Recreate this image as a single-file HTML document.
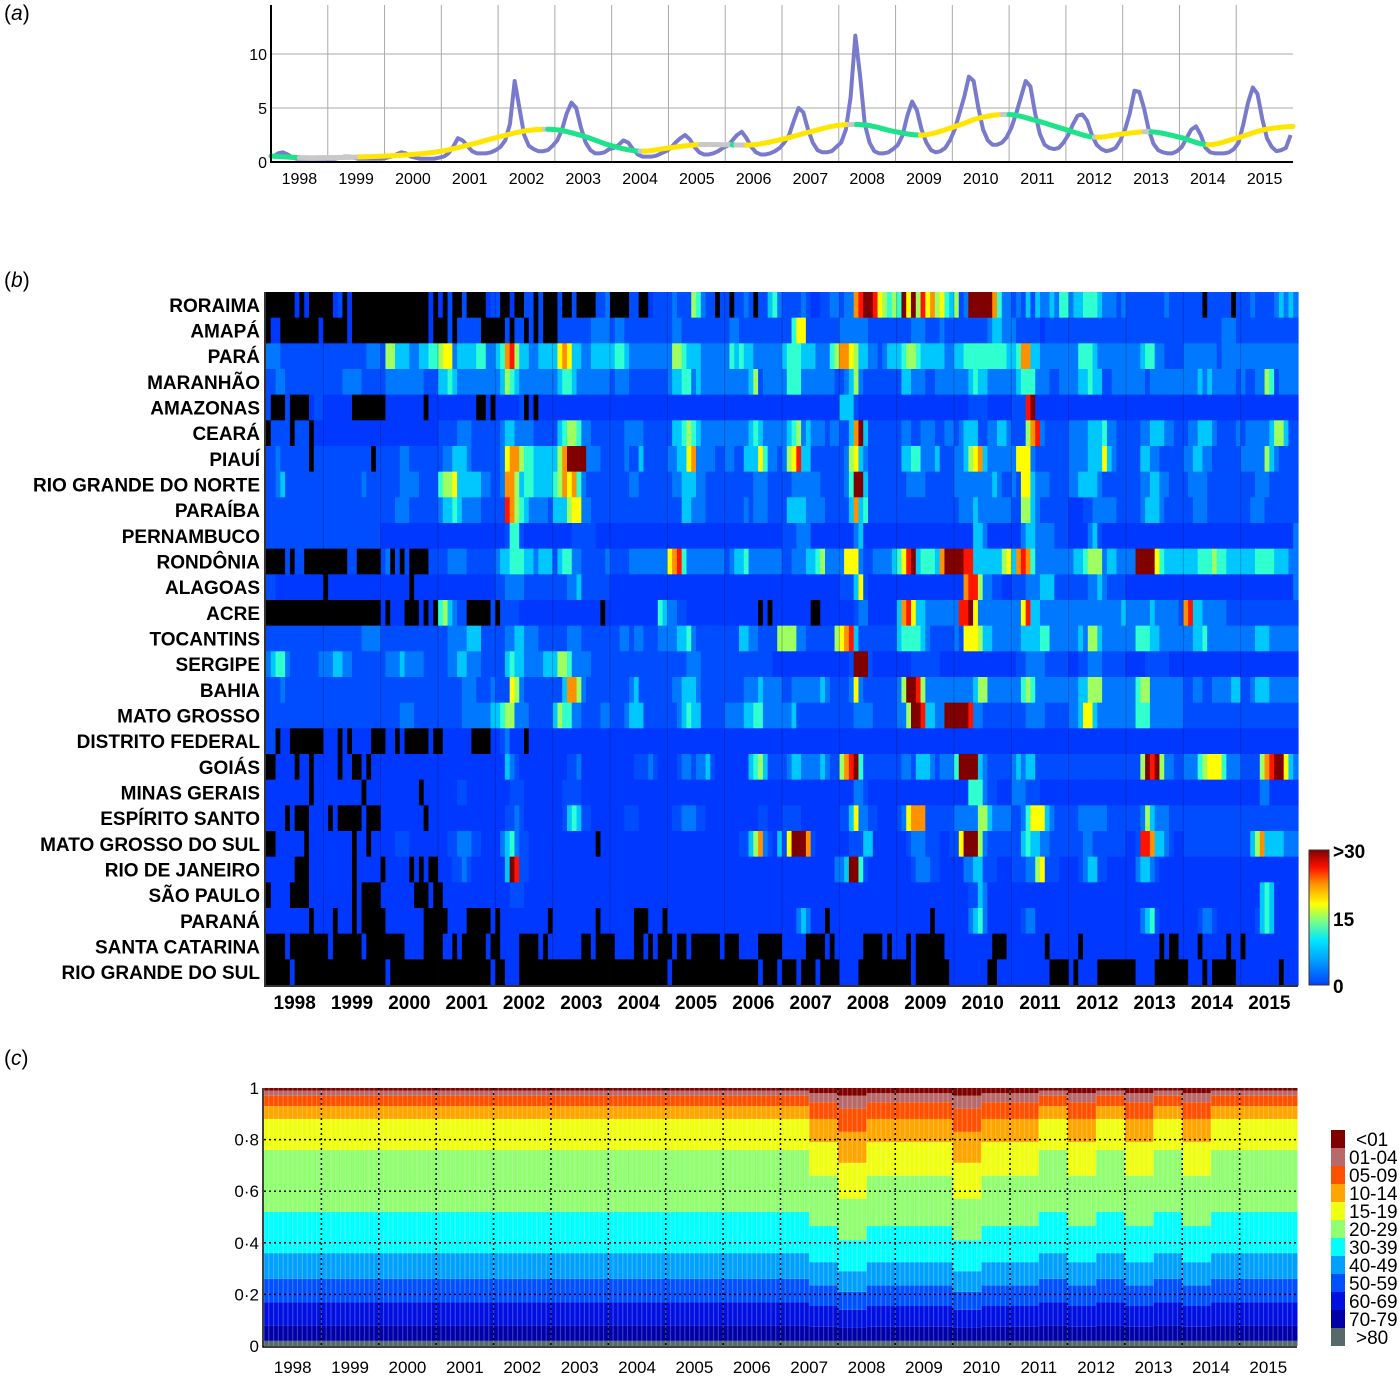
<!DOCTYPE html>
<html><head><meta charset="utf-8"><style>
html,body{margin:0;padding:0;background:#fff;}
svg{display:block;font-family:"Liberation Sans",sans-serif;}
</style></head><body>
<svg id="fig" width="1400" height="1377" viewBox="0 0 1400 1377" xmlns="http://www.w3.org/2000/svg">
<defs>
<linearGradient id="jet" x1="0" y1="1" x2="0" y2="0">
<stop offset="0" stop-color="#0040ff"/><stop offset="0.15" stop-color="#0090ff"/><stop offset="0.33" stop-color="#00e6ff"/><stop offset="0.48" stop-color="#80ff80"/><stop offset="0.6" stop-color="#ffff00"/><stop offset="0.75" stop-color="#ff9000"/><stop offset="0.87" stop-color="#ff1000"/><stop offset="1" stop-color="#800000"/>
</linearGradient>
</defs>
<text x="4" y="20" font-size="21">(<tspan font-style="italic">a</tspan>)</text>
<text x="4" y="287" font-size="21">(<tspan font-style="italic">b</tspan>)</text>
<text x="4" y="1065" font-size="21">(<tspan font-style="italic">c</tspan>)</text>
<g id="pa"></g>
<g id="pb"></g>
<g id="pc"></g>
</svg>
<script>
const years = ['1998','1999','2000','2001','2002','2003','2004','2005','2006','2007','2008','2009','2010','2011','2012','2013','2014','2015'];
// Panel a: monthly incidence
const incidence = [
0.5,0.8,0.9,0.7,0.4,0.3,0.3,0.3,0.3,0.3,0.3,0.3,
0.3,0.3,0.4,0.5,0.5,0.4,0.3,0.3,0.3,0.3,0.3,0.3,
0.4,0.5,0.7,0.9,0.8,0.5,0.4,0.3,0.3,0.3,0.3,0.4,
0.5,0.8,1.4,2.2,2.0,1.5,1.0,0.8,0.8,0.8,0.9,1.1,
1.4,2.0,3.5,7.5,5.0,2.5,1.5,1.2,1.0,1.0,1.1,1.5,
2.0,3.0,4.5,5.5,5.0,3.2,1.8,1.1,0.8,0.8,0.9,1.2,
1.3,1.6,2.0,1.8,1.2,0.7,0.5,0.5,0.5,0.6,0.8,1.0,
1.3,1.8,2.2,2.5,2.1,1.4,0.9,0.7,0.7,0.8,1.0,1.3,
1.5,2.0,2.5,2.8,2.2,1.4,0.9,0.7,0.7,0.8,1.0,1.3,
1.8,2.5,3.8,5.0,4.6,3.0,1.8,1.1,0.9,0.9,1.0,1.4,
1.8,3.0,6.0,11.7,8.0,3.5,1.8,1.0,0.8,0.8,0.9,1.2,
1.6,2.5,4.3,5.6,4.8,3.0,1.8,1.1,0.9,1.0,1.3,2.0,
3.0,4.5,6.0,7.9,7.5,5.0,3.0,2.0,1.6,1.6,1.8,2.3,
3.2,4.5,6.0,7.5,7.0,4.5,2.6,1.6,1.3,1.2,1.3,1.8,
2.5,3.5,4.3,4.4,3.8,2.5,1.6,1.2,1.0,1.1,1.3,2.0,
3.0,4.5,6.6,6.5,5.0,3.0,1.7,1.1,0.9,0.8,0.8,1.0,
1.4,2.2,3.0,3.3,2.5,1.3,0.9,0.8,0.8,0.8,0.9,1.2,
1.8,3.5,5.5,6.9,6.3,4.0,2.2,1.4,1.0,1.1,1.3,2.5];
// half-year trend
const trend = [0.55,0.4,0.4,0.45,0.55,0.7,1.0,1.6,2.3,2.9,3.0,2.4,1.5,1.0,1.3,1.6,1.6,1.6,2.1,2.8,3.4,3.4,2.8,2.5,3.2,4.1,4.4,3.8,3.0,2.3,2.6,2.8,2.3,1.6,2.2,3.0,3.3];
const yTicksA = [0,5,10];

// Panel b: heatmap, level codes 0-9 (0..>30), x = no data
const states = ['RORAIMA','AMAPÁ','PARÁ','MARANHÃO','AMAZONAS','CEARÁ','PIAUÍ','RIO GRANDE DO NORTE','PARAÍBA','PERNAMBUCO','RONDÔNIA','ALAGOAS','ACRE','TOCANTINS','SERGIPE','BAHIA','MATO GROSSO','DISTRITO FEDERAL','GOIÁS','MINAS GERAIS','ESPÍRITO SANTO','MATO GROSSO DO SUL','RIO DE JANEIRO','SÃO PAULO','PARANÁ','SANTA CATARINA','RIO GRANDE DO SUL'];
const heat = [
"xxxxxx0x0xxx xx01x0xxxxxx xxxxxxxxxx0x 0x1xx1xxxx01 1xx0xx11x1xx x1xx1xxxx112 xxxx11xx0111 1211154211x1 1x1121x11342 111121001122 122789986545 496958675643 512999997422 121313223244 233444322212 111111112111 1111x11111x1 112111123232",
"x00xxxxxxxx0 xxxxx0xxxxxx xxxxxxxxxx0x xx1x11111xxx xx1x11x1x1xx x11111112222 122111111111 122111111111 122111111111 114661111111 222222111111 111222111211 111111123322 211111011111 111111111111 111111111111 111111112221 111111111111",
"222111111111 111111111222 155333223344 566233334422 347853322333 367633223333 344322222222 255433322222 243433222222 344433322245 776533221233 345543333322 334444444443 347733222222 224443222222 222344221111 222222212222 222222222222",
"112211111111 111122221111 122222222111 334322222222 235432222222 234432222222 122211111111 233442322222 222223512222 244422222221 123521111111 133222112222 222343322222 234442221122 223343311222 222212222222 222323222221 211225412222",
"1xxx1xxxx011 000000xxxxxx x00000000x00 00000000xx0x 000001x0x000 000000000000 000000000000 000000000000 000000000000 000000000000 333100000000 000000000000 000111100000 111890000000 000000000000 000000000000 000000000000 000000000000",
"x1111x111x00 000000000000 000000000000 111122211111 123322221111 134554221111 111222211111 133454322222 222223432222 234523222122 113793111111 122112221122 123331122332 111578211111 222233342211 111223332211 122333211112 122222355311",
"112111111x11 1111111111x1 111122111111 122333211111 126775443333 357999922211 111211311111 223367222211 221133364221 256833111111 125632111111 133442223111 223567322222 266621111111 222233363211 111332211111 223322111111 222225321111",
"112311111111 111111112111 111122221111 455633333221 127753443333 457674211111 111122111111 122333221111 111111222111 112222221111 124993111111 112222111111 222222223211 216632221111 223333211111 111223322111 122221111111 111222111111",
"111111111111 111111111111 111222111111 233432222111 118754322221 333566221111 111111111111 111332221111 111121222111 133332222111 113734111111 111111111111 122232222222 115532111111 000112222211 111233321111 112221111111 112221111111",
"111111111111 111111111111 000000000000 000000000000 001441000000 000011111000 000000000000 000000000000 000000000000 111222000000 000230000000 000000000000 000033200000 002332222111 000023100000 000000000000 000000000000 000000000002",
"xxxx1x11xxxx xxxxx11xxxxx 12x1x1xxxx11 112222111111 233444332333 134422111112 111122222222 678422222222 123342222222 112223345222 266621122223 468934443799 998833333356 378742222222 233455523322 229999643333 333444544333 333444433322",
"110000000000 x00000000000 000000x00000 000000000000 112222111111 111223111111 000000000000 000000000000 000000000000 000000000000 111361000000 000000000000 007885221100 111222333111 111122321111 000000000000 000000000000 000000000002",
"xxxxxxxxxxxx xxxxxxxxxxxx 0x000xxx0x0x 453211xxxxx1 x11110000000 0000000000x0 000000000043 221100000000 0000000x0x00 000000xx0000 000122000000 378633222222 288962222222 226833222222 222222222223 222223222221 783322222111 111111111111",
"111111111111 111111112222 111111111111 112222333111 112233222111 111222111111 112212211122 223342111111 111332211115 555221111115 678311111111 344443211111 216665332222 223333442222 223255322222 224443322222 223342222222 222333222222",
"234421111112 223322111111 122232222111 112233222111 113433222233 355422221111 111111111111 111122211111 111111111100 000000000000 001999100000 000111111000 000000000000 011222211111 001122211111 000011111000 000000000000 000000000000",
"111211111111 111111111111 111111111111 111112221112 111652111111 113775211111 111123111111 122333211111 111122232222 112222223211 112621111111 259985222222 222235522222 224542222222 223355522222 224552222222 112211222233 112333222222",
"111111111111 111111111111 111122211111 111112222223 345522211111 354422111122 111233311111 112343311111 222233442222 223111111111 111222211111 225998332299 999822111111 111222211111 223663222222 224442222222 111111111111 111111111111",
"11x00xxxxxxx 000x0x0000xx x00x0xxxxx0x x000000xxxx0 012000x00000 000000000000 000000000000 000000000000 000000000000 000000000000 000000000000 000000000000 000000000000 000000000000 000000000000 000000000000 000000000000 000000000000",
"xx0000x00x00 000x00xx0x00 000000000000 000000000000 003210000000 000112000000 000001112100 001221223100 000003453111 123322223211 578941111111 122133321222 499993211111 232331111111 111111111111 111598952211 222456664222 111157899632",
"000000000x00 00000000x000 00000000x000 000011000000 000111000000 001111000000 000000000000 000000000000 000000000000 000000000000 000221000000 000000000000 000444211000 222111000000 000000000000 000000000000 000000000000 000022000000",
"0000x0xxx000 0x0xxxxx0xxx 000000000x00 000000000000 001121000000 001343110000 000111000000 011222110000 000000011000 111100000000 113622110000 126777111111 222225532222 112466632111 112222221111 111253222111 111111111111 111111111111",
"xx000000x000 000000x00x00 000111000000 001122211000 023421100000 000000000x00 000000000000 000000000000 000113572103 169997100000 001113300000 001222111001 169995211111 113433221111 111221111111 001887332100 111111111111 113573333222",
"000000xxx000 000000x00000 x00000x0x0xx 000112100000 003981100000 000000000000 000000000000 000000000000 000000000000 000000000002 239941000000 000122211000 002233111000 111225611100 001233110000 002332100000 000000000000 000000000000",
"x0000xxxx000 000000x0xxxx 0000000xxx0x x00000000000 000111000000 000000000000 000000000000 000000000000 000000000000 000000000000 000000000000 000000000000 000113200000 000000000000 000000000000 000000000000 000000000000 000034300000",
"000000000x00 00x000x0xxxx x00000000xxx xx0000xxxxx0 x0000000000x 000000000x00 00000xxx000x 000000000000 000000000000 000232000x00 000000000000 0000000x0000 000234200000 001220000000 000000000000 000234100000 000122100000 000134300000",
"xxxx0xxxxxxx x0xxxxxx0xxx xxxxx0000xxx x00x0xxxxx0x x0000xxxx0x0 000000xx0xxx x0000xx0x0xx x0xx0xxxxxx0 xxx0000xxxxx 00000xxxx0x0 00000xxxx0x0 00x0xxxxxx00 00000000xxx0 0000000x0000 00x000000000 0000000x0xx0 000x00000x00 x00000000000",
"xxxxx0xxxxxx xxxxxxxxxxxx x0xxxxxxxxxx xxxxxxxxxxx0 xx000xxxxxxx xxxxxxxxxxxx xxxxxxxxxxxx 0xxxxxxxxxxx xxxxxxx0xxx0 xxx0xxx0xxxx 0000xxxxxxxx xxx0xxxxxxx0 0000000xx000 00000000xxxx 0x0000xxxxxx xx0000xxxxxx x000x0xxxxx0 00000000x000"];
const levelColors = ['#0038ff','#004cff','#0078ff','#00c8ff','#30ffd0','#a0ff60','#ffff00','#ff9000','#ff1400','#800000'];
const cbLabels = ['0','15','>30'];

// Panel c: age shares by half-year regime
const ageGroups = ['>80','70-79','60-69','50-59','40-49','30-39','20-29','15-19','10-14','05-09','01-04','<01'];
const shareNormal  = [0.02,0.06,0.09,0.09,0.10,0.16,0.24,0.12,0.05,0.04,0.02,0.01];
const shareMedium  = [0.02,0.055,0.08,0.08,0.09,0.14,0.195,0.13,0.09,0.065,0.035,0.02];
const shareShifted = [0.02,0.05,0.07,0.07,0.08,0.12,0.16,0.14,0.12,0.09,0.05,0.03];
const halfYearRegime = ['N','N','N','N','N','N','N','N','N','N','N','N','N','N','N','N','N','N','N','M','S','M','M','M','S','M','M','N','M','N','M','N','M','N','N','N'];
const ageColors = ['#566a6a','#0000a8','#0010e0','#0050ff','#00a0ff','#00ffff','#90ff70','#f0ff10','#ffa500','#ff5000','#b86a6a','#800000'];
const yTicksC = [0,0.2,0.4,0.6,0.8,1];
const yTickLabelsC = ['0','0·2','0·4','0·6','0·8','1'];

const NS='http://www.w3.org/2000/svg';
function mk(tag, attrs, parent){const e=document.createElementNS(NS,tag);for(const k in attrs)e.setAttribute(k,attrs[k]);parent.appendChild(e);return e;}

// ---------- Panel a ----------
const pa=document.getElementById('pa');
const ax0=271, ax1=1293, ay0=162, ayScale=10.8;
const xA = m => ax0 + (m+0.5)*(ax1-ax0)/216;
const xAt = t => ax0 + t*(ax1-ax0)/18;
const yA = v => ay0 - v*ayScale;
yTicksA.forEach(v=>{
  if(v>0){const g=mk('line',{x1:ax0,x2:ax1,y1:yA(v),y2:yA(v),stroke:'#aaa','stroke-width':1},pa);
  
  }
  const t=mk('text',{x:ax0-4,y:yA(v)+6,'text-anchor':'end','font-size':16},pa);t.textContent=v;
  
  
});
for(let i=1;i<18;i++){const g=mk('line',{x1:xAt(i),x2:xAt(i),y1:5,y2:ay0,stroke:'#aaa','stroke-width':1},pa);
  
  }
years.forEach((y,i)=>{const t=mk('text',{x:xAt(i+0.5),y:184,'text-anchor':'middle','font-size':16},pa);t.textContent=y;
  
  });
const line=mk('polyline',{points:incidence.map((v,m)=>xA(m)+','+yA(v)).join(' '),fill:'none',stroke:'#7a7acc','stroke-width':4,'stroke-linejoin':'round'},pa);


// smooth trend via Catmull-Rom
function cr(p0,p1,p2,p3,t){return 0.5*((2*p1)+(-p0+p2)*t+(2*p0-5*p1+4*p2-p3)*t*t+(-p0+3*p1-3*p2+p3)*t*t*t);}
for(let i=0;i<trend.length-1;i++){
  const p0=trend[Math.max(0,i-1)],p1=trend[i],p2=trend[i+1],p3=trend[Math.min(trend.length-1,i+2)];
  const N=8;
  for(let k=0;k<N;k++){
    const t0=k/N,t1=(k+1)/N;
    const v0=cr(p0,p1,p2,p3,t0),v1=cr(p0,p1,p2,p3,t1);
    const d=(v1-v0)*N;
    const col=d>0.08?'#ffe600':(d<-0.08?'#1de38a':'#c8c8c8');
    const s=mk('line',{x1:xAt((i+t0)/2),y1:yA(v0),x2:xAt((i+t1)/2),y2:yA(v1),stroke:col,'stroke-width':5,'stroke-linecap':'round'},pa);
    
    
  }
}
const axA=mk('path',{d:`M${ax0} 5 V${ay0} H${ax1}`,fill:'none',stroke:'#000','stroke-width':2},pa);



// ---------- Panel b ----------
const pb=document.getElementById('pb');
const bx0=266, bx1=1298, by0=292, by1=985;
const cw=(bx1-bx0)/216, rh=(by1-by0)/states.length;
heat.forEach((rowStr,r)=>{
  const groups=rowStr.trim().split(/\s+/);
  const cells=[];
  groups.forEach(g=>{let s=g.slice(0,12);while(s.length<12)s+=s[s.length-1];cells.push(...s.split(''));});
  cells.forEach((c,m)=>{
    const col=c==='x'?'#000':levelColors[+c];
    const rc=mk('rect',{x:bx0+m*cw,y:by0+r*rh,width:cw+0.6,height:rh+0.6,fill:col},pb);
    
    
  });
  const t=mk('text',{x:260,y:by0+(r+0.5)*rh+7,'text-anchor':'end','font-size':19,'font-weight':'bold'},pb);
  t.textContent=states[r];
  
  
});
for(let i=1;i<18;i++){const l=mk('line',{x1:bx0+i*12*cw,x2:bx0+i*12*cw,y1:by0,y2:by1,stroke:'rgba(0,0,40,0.25)','stroke-width':1},pb);
  
  }
years.forEach((y,i)=>{const t=mk('text',{x:bx0+(i+0.5)*12*cw,y:1009,'text-anchor':'middle','font-size':19,'font-weight':'bold'},pb);t.textContent=y;
  
  });
const axB=mk('path',{d:`M${bx0-1} ${by0} V${by1+1} H${bx1}`,fill:'none',stroke:'#333','stroke-width':2},pb);


const cb=mk('rect',{x:1309,y:850,width:20,height:135,fill:'url(#jet)',stroke:'#333','stroke-width':1},pb);


cbLabels.forEach((l,i)=>{const t=mk('text',{x:1333,y:[993,926,858][i],'font-size':19,'font-weight':'bold'},pb);t.textContent=l;
  
  });

// ---------- Panel c ----------
const pc=document.getElementById('pc');
const cx0=264, cx1=1297, cy0=1346, cy1=1088;
const yC=v=>cy0-v*(cy0-cy1);
const hw=(cx1-cx0)/halfYearRegime.length;
const regimeMap={N:shareNormal,M:shareMedium,S:shareShifted};
halfYearRegime.forEach((reg,h)=>{
  const sh=regimeMap[reg];let cum=0;
  sh.forEach((v,k)=>{
    const top=(k===sh.length-1)?1:cum+v;
    const rc=mk('rect',{x:cx0+h*hw,y:yC(top),width:hw+0.5,height:yC(cum)-yC(top),fill:ageColors[k]},pc);
    
    
    cum+=v;
  });
});
for(let m=0;m<216;m++){const l=mk('line',{x1:cx0+m*(cx1-cx0)/216,x2:cx0+m*(cx1-cx0)/216,y1:cy1,y2:cy0,stroke:'rgba(255,255,255,0.22)','stroke-width':1.2},pc);
  
  }
yTicksC.forEach((v,i)=>{
  if(v>0&&v<1){const g=mk('line',{x1:cx0,x2:cx1,y1:yC(v),y2:yC(v),stroke:'#000','stroke-width':1.5,'stroke-dasharray':'2,3'},pc);
  
  }
  const t=mk('text',{x:259,y:yC(v)+6,'text-anchor':'end','font-size':17},pc);t.textContent=yTickLabelsC[i];
  
  
});
for(let i=1;i<18;i++){const x=cx0+i*(cx1-cx0)/18;const l=mk('line',{x1:x,x2:x,y1:cy1,y2:cy0,stroke:'#000','stroke-width':1.5,'stroke-dasharray':'2,3'},pc);
  
  }
years.forEach((y,i)=>{const t=mk('text',{x:cx0+(i+0.5)*(cx1-cx0)/18,y:1373,'text-anchor':'middle','font-size':17},pc);t.textContent=y;
  
  });
const axC=mk('path',{d:`M${cx0-1} ${cy1} V${cy0+1} H${cx1}`,fill:'none',stroke:'#000','stroke-width':1.5},pc);


ageGroups.forEach((g,k)=>{
  const idx=ageGroups.length-1-k;
  const sw=mk('rect',{x:1331,y:1130+idx*18,width:14,height:18,fill:ageColors[k]},pc);
  
  
  const t=mk('text',{x:g.startsWith('<')||g.startsWith('>')?1356:1349,y:1130+idx*18+16,'font-size':19},pc);t.textContent=g;
  
  
});
</script>
</body></html>
